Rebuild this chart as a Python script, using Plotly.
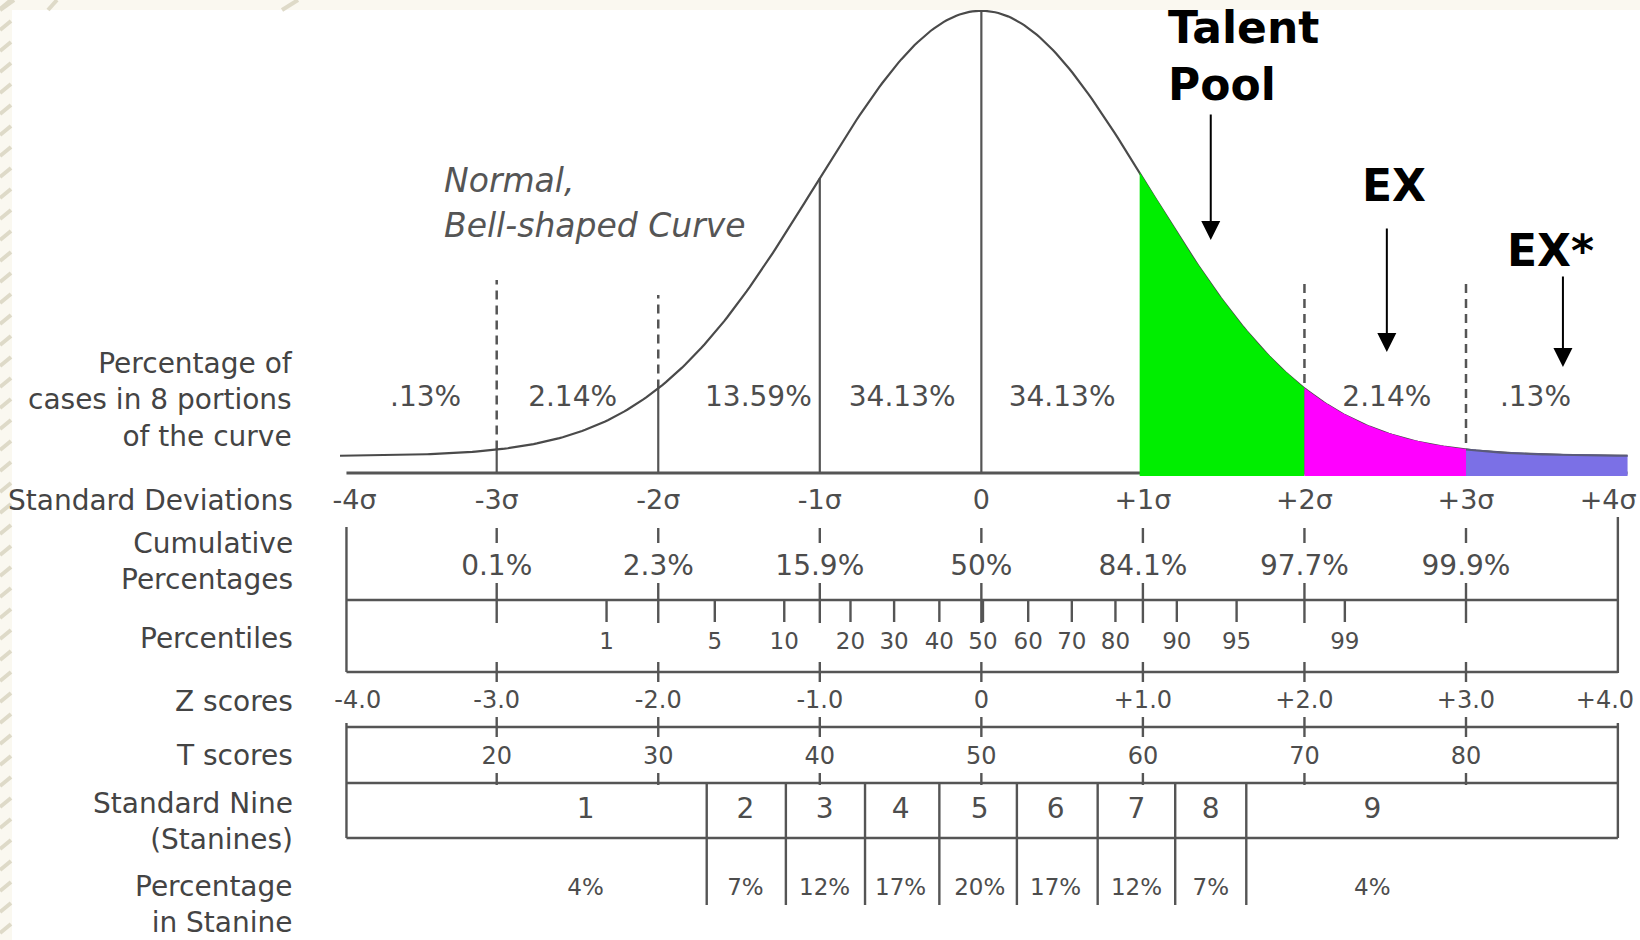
import numpy as np
import plotly.graph_objects as go

# ---------------- data ----------------
sigma_ticks = [-4, -3, -2, -1, 0, 1, 2, 3, 4]
sigma_labels = ["-4σ", "-3σ", "-2σ", "-1σ", "0", "+1σ", "+2σ", "+3σ", "+4σ"]

portion_labels = [".13%", "2.14%", "13.59%", "34.13%", "34.13%", "13.59%", "2.14%", ".13%"]
portion_z = [-3.44, -2.53, -1.38, -0.49, 0.50, 1.50, 2.51, 3.43]

cum_z = [-3, -2, -1, 0, 1, 2, 3]
cum_labels = ["0.1%", "2.3%", "15.9%", "50%", "84.1%", "97.7%", "99.9%"]

percentiles = [1, 5, 10, 20, 30, 40, 50, 60, 70, 80, 90, 95, 99]
percentile_z = [-2.32, -1.65, -1.22, -0.81, -0.54, -0.26, 0.01, 0.29, 0.56, 0.83, 1.21, 1.58, 2.25]

z_labels = ["-4.0", "-3.0", "-2.0", "-1.0", "0", "+1.0", "+2.0", "+3.0", "+4.0"]
t_z = [-3, -2, -1, 0, 1, 2, 3]
t_scores = [20, 30, 40, 50, 60, 70, 80]

stanines = [1, 2, 3, 4, 5, 6, 7, 8, 9]
stanine_pct = ["4%", "7%", "12%", "17%", "20%", "17%", "12%", "7%", "4%"]
stanine_center_z = [-2.45, -1.46, -0.97, -0.50, -0.01, 0.46, 0.96, 1.42, 2.42]
stanine_bounds_z = [-1.70, -1.21, -0.72, -0.26, 0.22, 0.72, 1.20, 1.64]

band_from = [0.98, 2.0, 3.0]
band_to = [2.0, 3.0, 4.0]
band_colors = ["#00ee00", "#ff00ff", "#7b70e6"]

callout_text = ["Talent<br>Pool", "EX", "EX*"]
callout_z = [1.42, 2.51, 3.60]

row_labels = ["Percentage of<br>cases in 8 portions<br>of the curve", "Standard Deviations",
              "Cumulative<br>Percentages", "Percentiles", "Z scores", "T scores",
              "Standard Nine<br>(Stanines)", "Percentage<br>in Stanine"]

# ---------------- layout / style constants ----------------
W, H = 1640, 940
PX0, PXS = 981.35, 161.55          # pixel of z=0, pixels per sigma
CURVE_S = 1.03                      # drawn width of the bell (in sigma units)
BASE_PX = 473.0                     # pixel of baseline
DENS_PX = 445.3 * CURVE_S * np.sqrt(2 * np.pi)   # pixels per density unit
CURVE_OFFSET = 17.0 / DENS_PX
FILL_BOTTOM = -3.0 / DENS_PX
BOX_L, BOX_R = -3.93, 3.94
LINE_C = "#555555"
TEXT_C = "#4d4d4d"
FONT = "DejaVu Sans"


def pdf(z):
    z = np.asarray(z, dtype=float) / CURVE_S
    return np.exp(-z ** 2 / 2) / (CURVE_S * np.sqrt(2 * np.pi))


def curve(z):
    return CURVE_OFFSET + pdf(z)


def dens(px):
    return (BASE_PX - px) / DENS_PX


def segs(pairs):
    xs, ys = [], []
    for (x0, y0), (x1, y1) in pairs:
        xs += [x0, x1, None]
        ys += [y0, y1, None]
    return xs, ys


fig = go.Figure()

# ---- vertical lines in the curve area (density axis) ----
solid_z = [-3, -2, -1, 0, 1, 2, 3]
xs, ys = segs([((z, 0), (z, float(curve(z)))) for z in solid_z])
fig.add_trace(go.Scatter(x=xs, y=ys, mode="lines", line=dict(color=LINE_C, width=2.2),
                         hoverinfo="skip"))
dash_top = {-3: dens(280), -2: dens(295), 2: dens(280), 3: dens(280)}
xs, ys = segs([((z, float(curve(z)) if z < 0 else 0), (z, t)) for z, t in dash_top.items()])
fig.add_trace(go.Scatter(x=xs, y=ys, mode="lines",
                         line=dict(color=LINE_C, width=2.5, dash="9px,6px"), hoverinfo="skip"))

# ---- baseline ----
fig.add_trace(go.Scatter(x=[BOX_L, 4.0], y=[0, 0], mode="lines",
                         line=dict(color=LINE_C, width=2.8), hoverinfo="skip"))

# ---- bell curve ----
zc = np.linspace(-3.97, 4.0, 400)
fig.add_trace(go.Scatter(x=zc, y=curve(zc), mode="lines",
                         line=dict(color="#4a4a4a", width=2.2), hoverinfo="skip"))

# ---- portion percentages (behind the coloured bands) ----
fig.add_trace(go.Scatter(x=portion_z, y=[dens(398.5)] * len(portion_z), mode="text",
                         text=portion_labels, textfont=dict(family=FONT, size=28, color=TEXT_C),
                         hoverinfo="skip"))

# ---- coloured bands ----
for a, b, col in zip(band_from, band_to, band_colors):
    zz = np.linspace(a, b, 80)
    px = [a] + list(zz) + [b]
    py = [FILL_BOTTOM] + list(curve(zz) + 0.6 / DENS_PX) + [FILL_BOTTOM]
    fig.add_trace(go.Scatter(x=px, y=py, mode="lines", fill="toself", fillcolor=col,
                             line=dict(width=0, color=col), hoverinfo="skip"))
zt = np.linspace(3.0, 4.0, 60)
fig.add_trace(go.Scatter(x=zt, y=curve(zt), mode="lines",
                         line=dict(color="#5a5a7a", width=2), hoverinfo="skip"))

# ---- table lines (pixel row axis y2) ----
pairs = []
for yl in [600, 672, 727, 783, 838]:
    pairs.append(((BOX_L, yl), (BOX_R, yl)))
pairs += [((BOX_L, 527), (BOX_L, 672)), ((BOX_L, 723), (BOX_L, 838)),
          ((BOX_R, 517), (BOX_R, 673)), ((BOX_R, 723), (BOX_R, 838))]
for z in cum_z:
    pairs += [((z, 528), (z, 543)), ((z, 583), (z, 623)), ((z, 662), (z, 682)),
              ((z, 717), (z, 737)), ((z, 773), (z, 785))]
for z in percentile_z:
    pairs.append(((z, 601), (z, 622)))
for z in stanine_bounds_z:
    pairs.append(((z, 783), (z, 905)))
xs, ys = segs(pairs)
fig.add_trace(go.Scatter(x=xs, y=ys, yaxis="y2", mode="lines",
                         line=dict(color=LINE_C, width=2.4), hoverinfo="skip"))


def text_row(x, y, labels, size):
    fig.add_trace(go.Scatter(x=x, y=[y] * len(x), yaxis="y2", mode="text",
                             text=[str(v) for v in labels],
                             textfont=dict(family=FONT, size=size, color=TEXT_C),
                             hoverinfo="skip"))


edge = lambda z, lim: max(min(z, lim), -lim)
text_row([edge(z, 3.88) for z in sigma_ticks], 502, sigma_labels, 27)
text_row(cum_z, 568, cum_labels, 28)
text_row(percentile_z, 643, percentiles, 23)
text_row([edge(z, 3.86) for z in sigma_ticks], 702, z_labels, 24)
text_row(t_z, 758, t_scores, 24)
text_row(stanine_center_z, 811, stanines, 28)
text_row(stanine_center_z, 889, stanine_pct, 23)

annotations = []
# row labels on the left
label_y = [399.5, 500, 561.5, 638, 701, 755, 821.5, 904]
for txt, yy in zip(row_labels, label_y):
    annotations.append(dict(x=(295 - PX0) / PXS, y=yy, xref="x", yref="y2", text=txt,
                            showarrow=False, xanchor="right", yanchor="middle", align="right",
                            font=dict(family=FONT, size=28, color="#444444")))
# Normal, bell-shaped curve caption
for txt, yy in [("Normal,", 180), ("Bell-shaped Curve", 225)]:
    annotations.append(dict(x=(442 - PX0) / PXS, y=yy, xref="x", yref="y2",
                            text="<i>" + txt + "</i>", showarrow=False, xanchor="left",
                            yanchor="middle", font=dict(family=FONT, size=33, color="#555555")))
# callouts
callout_pos = [((1166 - PX0) / PXS, 56), ((1360 - PX0) / PXS, 185), ((1505 - PX0) / PXS, 250)]
for txt, (cx, cy) in zip(callout_text, callout_pos):
    annotations.append(dict(x=cx, y=cy, xref="x", yref="y2", text="<b>" + txt + "</b>",
                            showarrow=False, xanchor="left", yanchor="middle", align="left",
                            font=dict(family=FONT, size=44, color="#000000")))
arrow_tip = [240, 352, 367]
arrow_tail = [113, 227, 275]
for z, tip, tail in zip(callout_z, arrow_tip, arrow_tail):
    annotations.append(dict(x=z, y=tip, xref="x", yref="y2", text="", showarrow=True,
                            ax=0, ay=-(tip - tail), arrowhead=2, arrowsize=1.9,
                            arrowwidth=2, arrowcolor="#000000", standoff=0))

# ---- slide background strips ----
BEIGE = "#faf8f0"
STRIPE = "#dedac8"
shapes = [
    dict(type="rect", xref="paper", yref="paper", x0=0, x1=1, y0=1 - 10 / H, y1=1.01,
         fillcolor=BEIGE, line=dict(width=0), layer="above"),
    dict(type="rect", xref="paper", yref="paper", x0=-0.01, x1=12 / W, y0=-0.01, y1=1.01,
         fillcolor=BEIGE, line=dict(width=0), layer="above"),
]
for k in range(0, 940, 21):
    shapes.append(dict(type="line", xref="paper", yref="paper", x0=0, x1=11 / W,
                       y0=1 - (k + 9) / H, y1=1 - k / H,
                       line=dict(color=STRIPE, width=4), layer="above"))
for x0p, x1p in [(0, 14), (48, 57), (282, 298)]:
    shapes.append(dict(type="line", xref="paper", yref="paper", x0=x0p / W, x1=x1p / W,
                       y0=1 - 10 / H, y1=1.0, line=dict(color=STRIPE, width=4), layer="above"))

fig.update_layout(
    width=W, height=H, margin=dict(l=0, r=0, t=0, b=0),
    paper_bgcolor="white", plot_bgcolor="white", showlegend=False,
    xaxis=dict(range=[-PX0 / PXS, (W - PX0) / PXS], visible=False, fixedrange=True),
    yaxis=dict(range=[-(H - BASE_PX) / DENS_PX, BASE_PX / DENS_PX], visible=False, fixedrange=True),
    yaxis2=dict(range=[H, 0], overlaying="y", visible=False, fixedrange=True),
    annotations=annotations, shapes=shapes,
)

fig.write_html("out.html", config={"displayModeBar": False},
               post_script="document.body.style.margin='0px';document.body.style.overflow='hidden';")
